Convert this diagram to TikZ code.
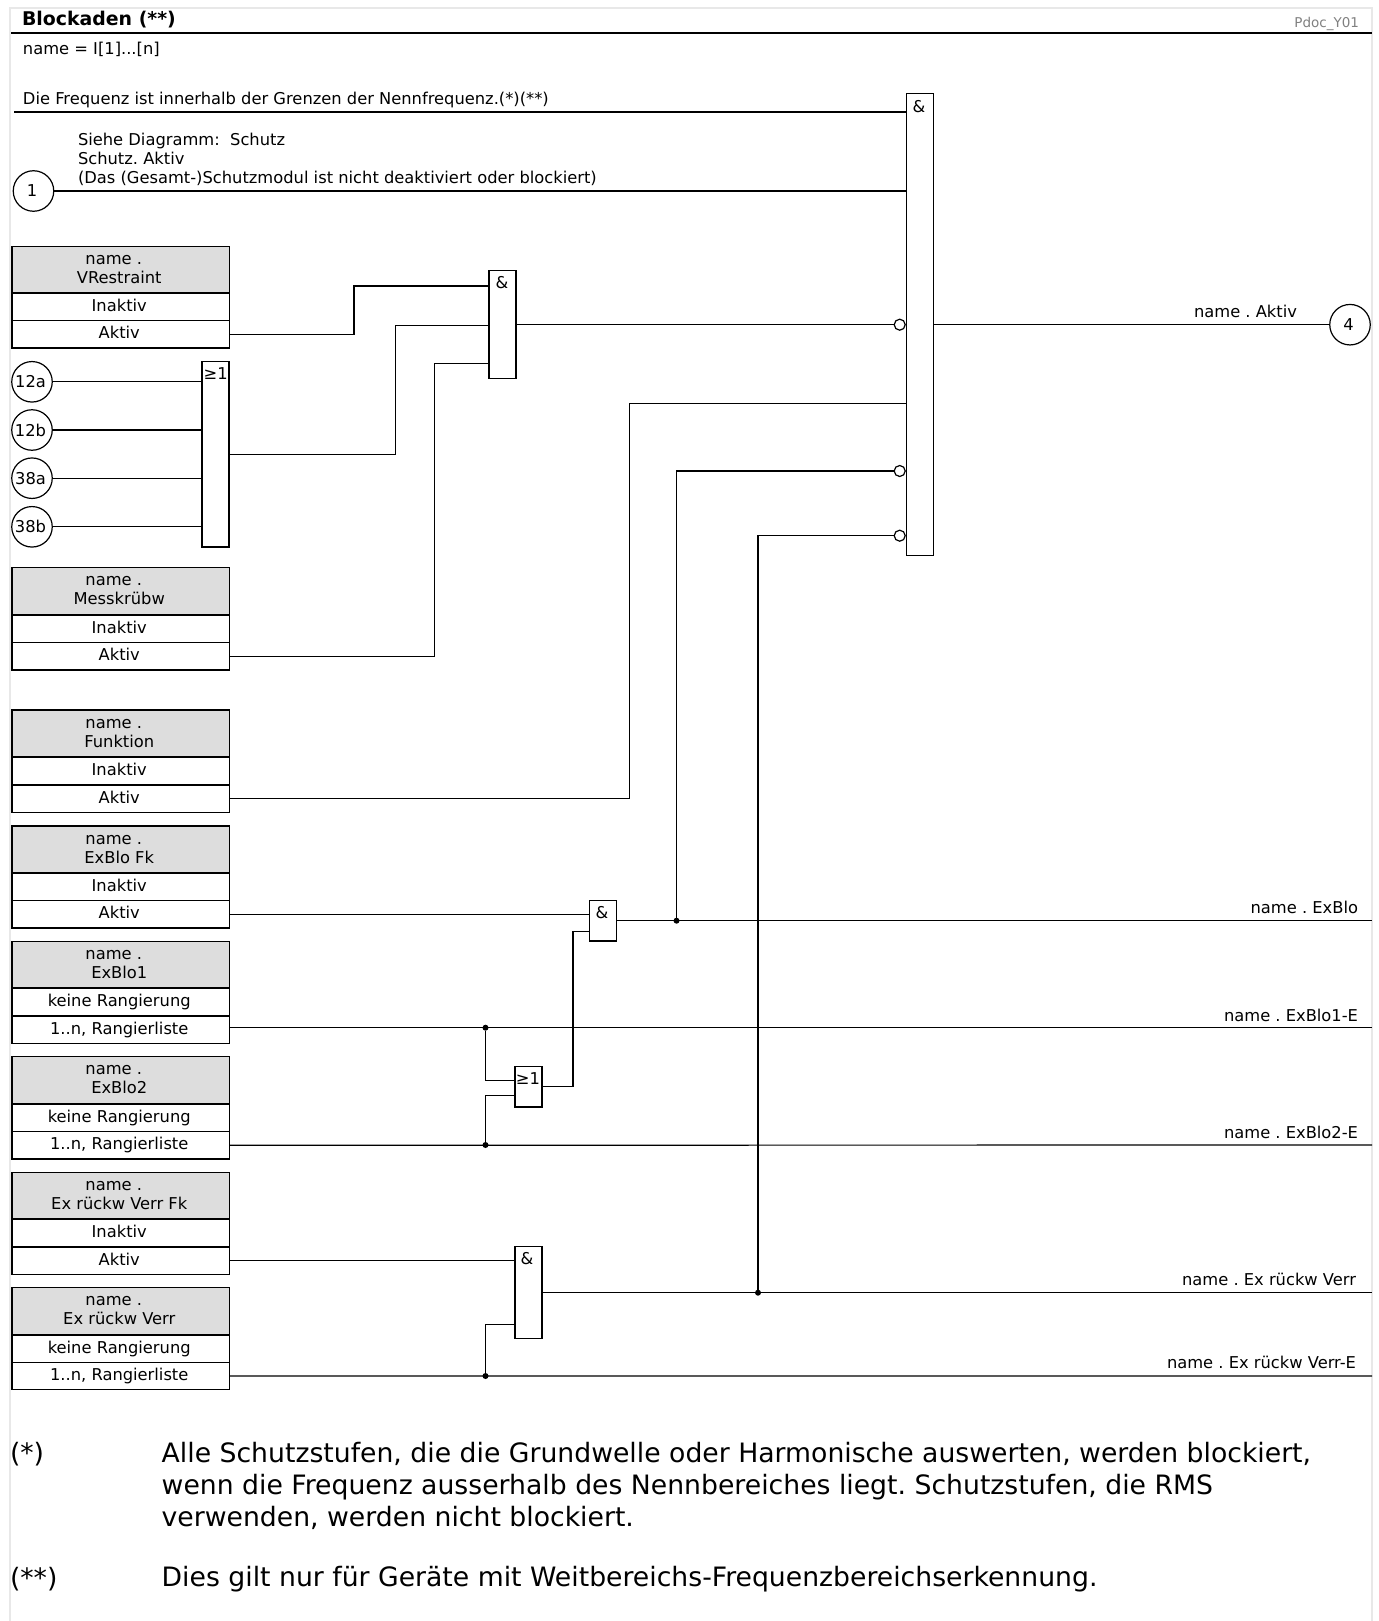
\documentclass[tikz,border=0pt]{standalone}
\usepackage{fontspec}
\setmainfont{DejaVu Sans}
\frenchspacing
\definecolor{headgray}{HTML}{DDDDDD}
\definecolor{framegray}{HTML}{E8E8E8}
\begin{document}
\begin{tikzpicture}[x=1pt, y=-1pt, line width=1.2pt,
  txt/.style={inner sep=0pt, outer sep=0pt, font=\fontsize{16.3}{19}\selectfont},
  head/.style={draw, fill=headgray, anchor=north west, minimum width=217.5pt, minimum height=46.5pt, inner sep=0pt, outer sep=0pt, align=center, execute at end node={\kern3pt}, font=\fontsize{16.3}{19}\selectfont},
  row/.style={draw, fill=white, anchor=north west, minimum width=217.5pt, minimum height=27.5pt, inner sep=0pt, outer sep=0pt, text height=12pt, text depth=3pt, execute at end node={\kern3pt}, font=\fontsize{16.3}{19}\selectfont},
  gate/.style={draw, fill=white, anchor=north west, minimum width=27pt, inner sep=0pt, outer sep=0pt},
  port/.style={draw, circle, minimum size=40.5pt, inner sep=0pt, outer sep=0pt, execute at end node={\kern3pt}, font=\fontsize{16.3}{19}\selectfont},
  inv/.style={draw, circle, fill=white, minimum size=11pt, inner sep=0pt, outer sep=0pt},
  dot/.style={fill, circle, minimum size=6pt, inner sep=0pt, outer sep=0pt},
  note/.style={inner sep=0pt, outer sep=0pt, anchor=west, align=left, font=\fontsize{26.67}{32}\selectfont}]
\useasboundingbox (0,0) rectangle (1378,1621);

% Frame and header
\draw[framegray, line width=1.6pt] (10,1621) -- (10,8) -- (1372,8) -- (1372,1621);
\draw[line width=2.6pt] (11,33) -- (1372,33);
\node[txt, anchor=west, font=\fontsize{18.9}{22}\selectfont\bfseries] (title) at (22,20) {Blockaden (**)};
\node[txt, anchor=east, text=gray, font=\fontsize{13.5}{15}\selectfont] (pdoc) at (1359,23.5) {Pdoc\_Y01};
\node[txt, anchor=west] (nameline) at (23,49) {name = I[1]...[n]};

% Main gate
\node[gate, minimum height=462pt] (andMain) at (906.6,93.7) {};
\node[txt] (andMainSym) at (919,107) {\&};
\node[inv] (invA) at (899.7,324.7) {};
\node[inv] (invB) at (899.7,471) {};
\node[inv] (invC) at (899.7,535.7) {};

% Frequency and module inputs
\coordinate (freqStart) at (14,112);
\node[txt, anchor=west] (freqText) at (23,100) {Die Frequenz ist innerhalb der Grenzen der Nennfrequenz.(*)(**)};
\draw (freqStart) -- (andMain.west |- freqStart);
\node[port] (portOne) at (33.5,191) {1};
\node[txt, anchor=west, align=left] (moduleText) at (78,159) {Siehe Diagramm:\ \ Schutz\\Schutz. Aktiv\\(Das (Gesamt-)Schutzmodul ist nicht deaktiviert oder blockiert)};
\draw (portOne) -- (andMain.west |- portOne);

% Setting boxes
\node[head] (vrHead) at (12,246.5) {name .\hspace*{11pt}\\VRestraint};
\node[row] (vrInaktiv) at (12,293) {Inaktiv};
\node[row] (vrAktiv) at (12,320.5) {Aktiv};

\node[head] (mkHead) at (12,567.6) {name .\hspace*{11pt}\\Messkrübw};
\node[row] (mkInaktiv) at (12,615) {Inaktiv};
\node[row] (mkAktiv) at (12,642.5) {Aktiv};

\node[head] (fnHead) at (12,710) {name .\hspace*{11pt}\\Funktion};
\node[row] (fnInaktiv) at (12,757.5) {Inaktiv};
\node[row] (fnAktiv) at (12,785) {Aktiv};

\node[head] (fkHead) at (12,826) {name .\hspace*{11pt}\\ExBlo Fk};
\node[row] (fkInaktiv) at (12,873.3) {Inaktiv};
\node[row] (fkAktiv) at (12,900.5) {Aktiv};

\node[head] (oneHead) at (12,941.3) {name .\hspace*{11pt}\\ExBlo1};
\node[row] (oneKeine) at (12,988.7) {keine Rangierung};
\node[row] (oneListe) at (12,1016) {1..n, Rangierliste};

\node[head] (twoHead) at (12,1056.7) {name .\hspace*{11pt}\\ExBlo2};
\node[row] (twoKeine) at (12,1104) {keine Rangierung};
\node[row] (twoListe) at (12,1131.5) {1..n, Rangierliste};

\node[head] (rfHead) at (12,1172.3) {name .\hspace*{11pt}\\Ex rückw Verr Fk};
\node[row] (rfInaktiv) at (12,1219.7) {Inaktiv};
\node[row] (rfAktiv) at (12,1247) {Aktiv};

\node[head] (rvHead) at (12,1287.7) {name .\hspace*{11pt}\\Ex rückw Verr};
\node[row] (rvKeine) at (12,1335) {keine Rangierung};
\node[row] (rvListe) at (12,1362.3) {1..n, Rangierliste};

% Gates
\node[gate, minimum height=108pt] (andA) at (489,270.4) {};
\node[txt] (andASym) at (502,283) {\&};
\node[gate, minimum height=185.6pt] (orA) at (202,361.4) {};
\node[txt] (orASym) at (215.7,373.5) {≥1};
\node[gate, minimum height=40.7pt] (andB) at (589.8,900.3) {};
\node[txt] (andBSym) at (602,912.7) {\&};
\node[gate, minimum height=40.7pt] (orB) at (515,1066.3) {};
\node[txt] (orBSym) at (528,1079) {≥1};
\node[gate, minimum height=92.4pt] (andC) at (515,1246.3) {};
\node[txt] (andCSym) at (527,1258.7) {\&};

% Ports into the first or gate
\node[port] (portTwelveA) at (32,381.8) {12a};
\node[port] (portTwelveB) at (32,430) {12b};
\node[port] (portEightA) at (32,478.2) {38a};
\node[port] (portEightB) at (32,526.8) {38b};
\draw (portTwelveA) -- (orA.west |- portTwelveA);
\draw (portTwelveB) -- (orA.west |- portTwelveB);
\draw (portEightA) -- (orA.west |- portEightA);
\draw (portEightB) -- (orA.west |- portEightB);

% Connections into the first and gate
\draw (vrAktiv.east) -| (354,286) -- (andA.west |- 0,286);
\draw (orA.east |- 0,454.3) -| (395.2,325.7) -- (andA.west |- 0,325.7);
\draw (mkAktiv.east) -| (434.4,363.2) -- (andA.west |- 0,363.2);

% Connections into the main gate
\draw (andA.east |- invA) -- (invA);
\draw (fnAktiv.east) -| (629.4,403.6) -- (andMain.west |- 0,403.6);

% Output to port 4
\node[port] (portFour) at (1350,324.7) {4};
\draw (andMain.east |- portFour) -- (portFour);
\node[txt] (aktivLabel) at (1245.5,311.5) {name . Aktiv};

% ExBlo
\node[dot] (dotBlo) at (676.5,920.7) {};
\coordinate (bloEnd) at (1372,920.7);
\draw (fkAktiv.east) -- (andB.west |- fkAktiv);
\draw (andB.east |- bloEnd) -- (bloEnd);
\draw (dotBlo) |- (invB);
\node[txt, anchor=east] (bloLabel) at (1358,907.7) {name . ExBlo};

% ExBlo1 and ExBlo2
\node[dot] (dotOne) at (485.5,1027.7) {};
\node[dot] (dotTwo) at (485.5,1145) {};
\coordinate (oneEnd) at (1372,1027.7);
\coordinate (twoEnd) at (1372,1145);
\draw (oneListe.east |- oneEnd) -- (oneEnd);
\draw (twoListe.east) -- (twoEnd);
\draw (dotOne) |- (orB.west |- 0,1080.7);
\draw (dotTwo) |- (orB.west |- 0,1095.3);
\draw (orB.east |- 0,1086.7) -| (573,931.3) -- (andB.west |- 0,931.3);
\node[txt, anchor=east] (oneLabel) at (1358,1015) {name . ExBlo1-E};
\node[txt, anchor=east] (twoLabel) at (1358,1132) {name . ExBlo2-E};

% Ex rueckw Verr
\node[dot] (dotRv) at (485.5,1376) {};
\node[dot] (dotOut) at (758,1292.7) {};
\coordinate (rfEnd) at (1372,1292.7);
\coordinate (rvEnd) at (1372,1376);
\draw (rfAktiv.east) -- (andC.west |- rfAktiv);
\draw (rvListe.east) -- (rvEnd);
\draw (dotRv) |- (andC.west |- 0,1324.7);
\draw (andC.east |- rfEnd) -- (rfEnd);
\draw (dotOut) |- (invC);
\node[txt, anchor=east] (rfLabel) at (1356,1279) {name . Ex rückw Verr};
\node[txt, anchor=east] (rvLabel) at (1356,1362.6) {name . Ex rückw Verr-E};

% Notes
\node[note] (starOne) at (10,1454) {(*)};
\node[note] (noteOne) at (161.7,1486) {Alle Schutzstufen, die die Grundwelle oder Harmonische auswerten, werden blockiert,\\wenn die Frequenz ausserhalb des Nennbereiches liegt. Schutzstufen, die RMS\\verwenden, werden nicht blockiert.};
\node[note] (starTwo) at (10,1579) {(**)};
\node[note] (noteTwo) at (161.7,1579) {Dies gilt nur für Geräte mit Weitbereichs-Frequenzbereichserkennung.};
\end{tikzpicture}
\end{document}
